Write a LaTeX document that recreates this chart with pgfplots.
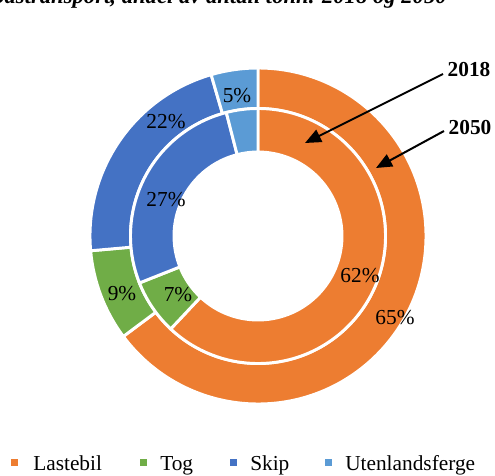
\documentclass[border=0pt]{standalone}
\usepackage{fontspec}
\setmainfont{Liberation Serif}
\usepackage{pgfplots}
\pgfplotsset{compat=1.18}
\usetikzlibrary{arrows.meta}

\definecolor{ora}{HTML}{ED7D31}
\definecolor{grn}{HTML}{70AD47}
\definecolor{blu}{HTML}{4472C4}
\definecolor{lbl}{HTML}{5B9BD5}

\tikzset{lab/.style={font=\fontsize{16}{19}\selectfont, inner sep=0pt}}

% one ring of the donut: outer radius, inner radius, value/colour list
% (radii in axis units, 1 unit = 0.75pt)
\newcommand\donutring[3]{%
  \foreach \v/\c [remember=\cum as \prev (initially 0)] in {#3} {%
    \pgfmathsetmacro\cum{\prev+\v}%
    \pgfmathsetmacro\aa{90-3.6*\prev}%
    \pgfmathsetmacro\bb{90-3.6*\cum}%
    \pgfmathsetmacro\ro{#1*0.75}%
    \pgfmathsetmacro\ri{#2*0.75}%
    \edef\tmp{\noexpand\fill[\c, draw=white, line width=2.2pt]
      (axis cs:{#1*cos(\aa)},{#1*sin(\aa)})
      arc[start angle=\aa, end angle=\bb, radius=\ro pt]
      -- (axis cs:{#2*cos(\bb)},{#2*sin(\bb)})
      arc[start angle=\bb, end angle=\aa, radius=\ri pt] -- cycle;}%
    \tmp
  }%
}

\begin{document}
\begin{tikzpicture}
\begin{axis}[
  width=371.25pt, height=356.25pt, scale only axis,
  xmin=-258, xmax=237, ymin=-239, ymax=236,
  hide axis, clip=false,
]
\coordinate (ll) at (rel axis cs:0,0);
\coordinate (ur) at (rel axis cs:1,1);

% 2050 (outer) and 2018 (inner), shares in percent
\donutring{168}{127.5}{64.8/ora,8.8/grn,21.9/blu,4.5/lbl}
\donutring{127.5}{84}{62/ora,7/grn,27/blu,4/lbl}

% data labels
\node[lab] at (axis cs:137,-82) {65\%};
\node[lab] at (axis cs:-136,-58) {9\%};
\node[lab] at (axis cs:-92,114) {22\%};
\node[lab] at (axis cs:-21,140) {5\%};
\node[lab] at (axis cs:102,-40) {62\%};
\node[lab] at (axis cs:-80,-59) {7\%};
\node[lab] at (axis cs:-92,36) {27\%};

% year arrows
\draw[line width=1.5pt, -{Triangle[length=12pt,width=10pt]}]
  (axis cs:185,162) -- (axis cs:47,93);
\draw[line width=1.5pt, -{Triangle[length=12pt,width=10pt]}]
  (axis cs:186,105) -- (axis cs:118,68);
\node[lab, font=\fontsize{16}{19}\selectfont\bfseries] at (axis cs:211,166) {2018};
\node[lab, font=\fontsize{16}{19}\selectfont\bfseries] at (axis cs:212,108) {2050};

% title, cut at the top edge as in the source
\node[anchor=base east, inner sep=0pt, font=\fontsize{17}{20}\selectfont\bfseries\itshape]
  at (axis cs:189,232) {Figur 3: Godstransport, andel av antall tonn. 2018 og 2050};

% legend
\fill[ora] (axis cs:-246.5,-230) rectangle (axis cs:-239.5,-223);
\node[lab, anchor=base west] at (axis cs:-225,-234) {Lastebil};
\fill[grn] (axis cs:-118.5,-230) rectangle (axis cs:-111.5,-223);
\node[lab, anchor=base west] at (axis cs:-98,-234) {Tog};
\fill[blu] (axis cs:-28.5,-230) rectangle (axis cs:-21.5,-223);
\node[lab, anchor=base west] at (axis cs:-8,-234) {Skip};
\fill[lbl] (axis cs:66.5,-230) rectangle (axis cs:73.5,-223);
\node[lab, anchor=base west] at (axis cs:87,-234) {Utenlandsferge};
\end{axis}
\pgfresetboundingbox
\path[use as bounding box] (ll) rectangle (ur);
\end{tikzpicture}
\end{document}
